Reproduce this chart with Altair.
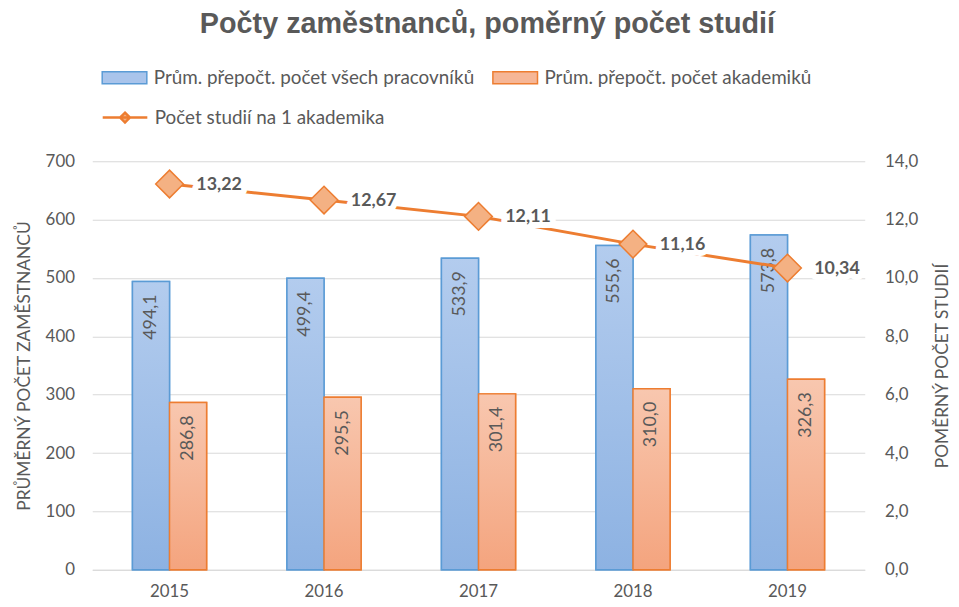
import altair as alt
import pandas as pd

years = ["2015", "2016", "2017", "2018", "2019"]
all_staff = [494.1, 499.4, 533.9, 555.6, 573.8]
academics = [286.8, 295.5, 301.4, 310.0, 326.3]
studies_per_academic = [13.22, 12.67, 12.11, 11.16, 10.34]

series_all = "Prům. přepočt. počet všech pracovníků"
series_acad = "Prům. přepočt. počet akademiků"
series_line = "Počet studií na 1 akademika"

title_text = "Počty zaměstnanců, poměrný počet studií"
left_title = "PRŮMĚRNÝ POČET ZAMĚSTNANCŮ"
right_title = "POMĚRNÝ POČET STUDIÍ"

FONT = "Lato"
GRAY = "#595959"
GRID = "#d9d9d9"

bars_df = pd.DataFrame({
    "year": years * 2,
    "series": [series_all] * len(years) + [series_acad] * len(years),
    "value": all_staff + academics,
})
bars_df["label"] = bars_df["value"].map(lambda v: f"{v:.1f}".replace(".", ","))

line_df = pd.DataFrame({
    "year": years,
    "value": studies_per_academic,
    "series": [series_line] * len(years),
})
line_df["label"] = line_df["value"].map(lambda v: f"{v:.2f}".replace(".", ","))

x_enc = alt.X(
    "year:N", sort=years,
    scale=alt.Scale(paddingInner=0.52, paddingOuter=0.26),
    axis=alt.Axis(title=None, labelAngle=0, ticks=False, domainColor=GRID,
                  labelPadding=14, grid=False),
)
xoff_enc = alt.XOffset(
    "series:N", sort=[series_all, series_acad],
    scale=alt.Scale(domain=[series_all, series_acad], paddingInner=0, paddingOuter=0),
)
y_left = alt.Y(
    "value:Q", scale=alt.Scale(domain=[0, 700]),
    axis=alt.Axis(title=left_title, values=[0, 100, 200, 300, 400, 500, 600, 700],
                  ticks=False, domain=False, grid=True, gridColor=GRID,
                  labelPadding=18, titlePadding=12),
)
y_right = alt.Y(
    "value:Q", scale=alt.Scale(domain=[0, 14]),
    axis=alt.Axis(orient="right", title=right_title, values=[0, 2, 4, 6, 8, 10, 12, 14],
                  labelExpr="replace(format(datum.value, '.1f'), '.', ',')",
                  grid=False, ticks=False, domain=False,
                  labelPadding=20, titlePadding=16, titleAngle=270, titleBaseline="top"),
)

leg_bars = alt.Legend(
    title=None, orient="none", legendX=9, legendY=-108, direction="horizontal", columns=2,
    symbolType="M-1,-0.27H1V0.27H-1Z", symbolSize=2025, symbolStrokeWidth=1.5,
    labelFont=FONT, labelFontSize=19, labelColor=GRAY, labelLimit=500,
    columnPadding=15, labelOffset=6,
)
leg_line = alt.Legend(
    title=None, orient="none", legendX=9, legendY=-68,
    symbolType="M-1,0H1M0,-0.22L0.22,0L0,0.22L-0.22,0Z", symbolSize=2025,
    symbolStrokeWidth=2.5, symbolFillColor="#F4B183",
    labelFont=FONT, labelFontSize=19, labelColor=GRAY, labelLimit=500, labelOffset=6,
)

grad_blue = alt.LinearGradient(
    gradient="linear", x1=0, x2=0, y1=0, y2=1,
    stops=[alt.GradientStop(color="#B3CCEE", offset=0), alt.GradientStop(color="#8DB2E2", offset=1)],
)
grad_orange = alt.LinearGradient(
    gradient="linear", x1=0, x2=0, y1=0, y2=1,
    stops=[alt.GradientStop(color="#F8C7AF", offset=0), alt.GradientStop(color="#F4A47E", offset=1)],
)

scale_dom = [series_all, series_acad]
bars_legend = alt.Chart(bars_df).mark_bar(strokeWidth=1.5).encode(
    x=x_enc, xOffset=xoff_enc, y=y_left,
    fill=alt.Fill("series:N", scale=alt.Scale(domain=scale_dom, range=["#A9C4EB", "#F6B696"]),
                  legend=leg_bars),
    stroke=alt.Stroke("series:N", scale=alt.Scale(domain=scale_dom, range=["#5B9BD5", "#ED7D31"]),
                      legend=leg_bars),
)
bars_grad = alt.Chart(bars_df).mark_bar(strokeWidth=1.5).encode(
    x=x_enc, xOffset=xoff_enc, y=y_left,
    fill=alt.condition(alt.datum.series == series_all, alt.value(grad_blue), alt.value(grad_orange)),
    stroke=alt.condition(alt.datum.series == series_all, alt.value("#5B9BD5"), alt.value("#ED7D31")),
)
bar_labels = alt.Chart(bars_df).mark_text(
    angle=270, align="right", baseline="middle", dx=-13,
    font=FONT, fontSize=18, color=GRAY,
).encode(x=x_enc, xOffset=xoff_enc, y=y_left, text="label:N")

left = alt.layer(bars_legend, bars_grad, bar_labels)

line = alt.Chart(line_df).mark_line(strokeWidth=3).encode(
    x=x_enc, y=y_right,
    color=alt.Color("series:N", scale=alt.Scale(domain=[series_line], range=["#ED7D31"]),
                    legend=leg_line),
)
label_bg = alt.Chart(line_df).mark_text(
    align="left", baseline="middle", dx=27, dy=1, font=FONT, fontSize=18, fontWeight="bold",
    color="white", stroke="white", strokeWidth=12, strokeJoin="round",
).encode(x=x_enc, y=y_right, text="label:N")
points = alt.Chart(line_df).mark_point(shape="diamond", size=780, filled=True, opacity=1).encode(
    x=x_enc, y=y_right,
    fill=alt.value("#F4B183"), stroke=alt.value("#ED7D31"), strokeWidth=alt.value(1.5),
)
line_labels = alt.Chart(line_df).mark_text(
    align="left", baseline="middle", dx=27, dy=1, font=FONT, fontSize=18, fontWeight="bold",
    color=GRAY,
).encode(x=x_enc, y=y_right, text="label:N")

right = alt.layer(line, label_bg, points, line_labels)

chart = alt.layer(left, right).resolve_scale(y="independent").properties(
    width=779, height=412,
    autosize=alt.AutoSizeParams(type="none"),
    padding={"left": 85, "top": 152, "right": 87, "bottom": 35},
    title=alt.TitleParams(text=title_text, font="Liberation Sans", fontSize=29, fontWeight="bold",
                          color=GRAY, anchor="middle", frame="group", offset=15, dx=9),
).configure_view(stroke=None).configure_axis(
    labelFont=FONT, labelFontSize=17, labelColor=GRAY,
    titleFont=FONT, titleFontSize=17.5, titleColor=GRAY, titleFontWeight="normal",
)

chart.save("out.html", embed_options={"renderer": "svg", "actions": False})
